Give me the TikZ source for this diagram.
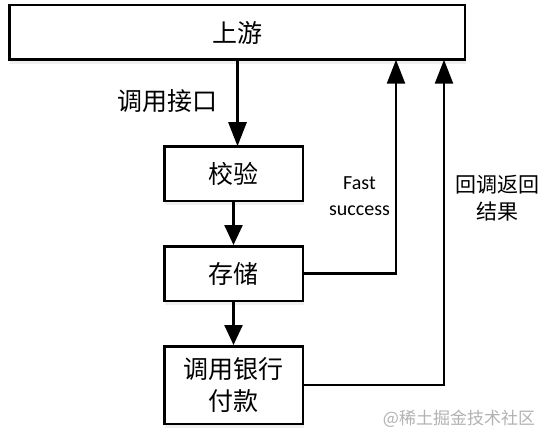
\documentclass[tikz,border=0pt]{standalone}
\usepackage{fontspec}
\setmainfont{Carlito}
\newfontfamily\cjk{Noto Sans CJK SC}
\usetikzlibrary{arrows.meta,shadows}
\tikzset{
  box/.style={draw=black, fill=white, line width=2.5pt, inner sep=0pt,
    minimum width=138.5pt, minimum height=54.5pt, align=center,
    font=\cjk\fontsize{25}{32}\selectfont,
    drop shadow={opacity=0.12, shadow xshift=1pt, shadow yshift=-4pt}},
  conn/.style={line width=2.5pt, -{Triangle[length=24pt,width=18pt]}},
  connshort/.style={line width=2.5pt, -{Triangle[length=20pt,width=18pt]}},
  lbl/.style={inner sep=0pt, align=center},
}
\begin{document}
\begin{tikzpicture}[x=1pt,y=-1pt]
\useasboundingbox (0,0) rectangle (551,441);
\fill[white] (0,0) rectangle (551,441);
\node[box, minimum width=455.5pt] (top) at (237,32.5) {上游};
\node[box] (v) at (233.5,173.5) {校验};
\node[box] (s) at (233.5,273.5) {存储};
\node[box, minimum height=77.5pt] (p) at (233.5,385) {调用银行\\付款};
\coordinate (a1) at (237.5,59.75);
\coordinate (a1e) at (237.5,146.25);
\coordinate (f1) at (396,59.75);
\coordinate (f2) at (444,59.75);
\draw[conn] (a1) -- (a1e);
\draw[connshort] (v.south) -- (s.north);
\draw[connshort] (s.south) -- (p.north);
\draw[conn] (s.east) -| (f1);
\draw[conn] (p.east) -| (f2);
\node[lbl, font=\cjk\fontsize{25}{30}\selectfont] (l1) at (167.5,101) {调用接口};
\node[lbl, font=\fontsize{20}{26}\selectfont] (l2) at (359.5,196) {Fast\\success};
\node[lbl, font=\cjk\fontsize{21}{27}\selectfont] (l3) at (497.5,198.5) {回调返回\\结果};
\node[lbl, text=black!30, font=\cjk\fontsize{17}{20}\selectfont] (wm) at (459,419) {@稀土掘金技术社区};
\end{tikzpicture}
\end{document}
